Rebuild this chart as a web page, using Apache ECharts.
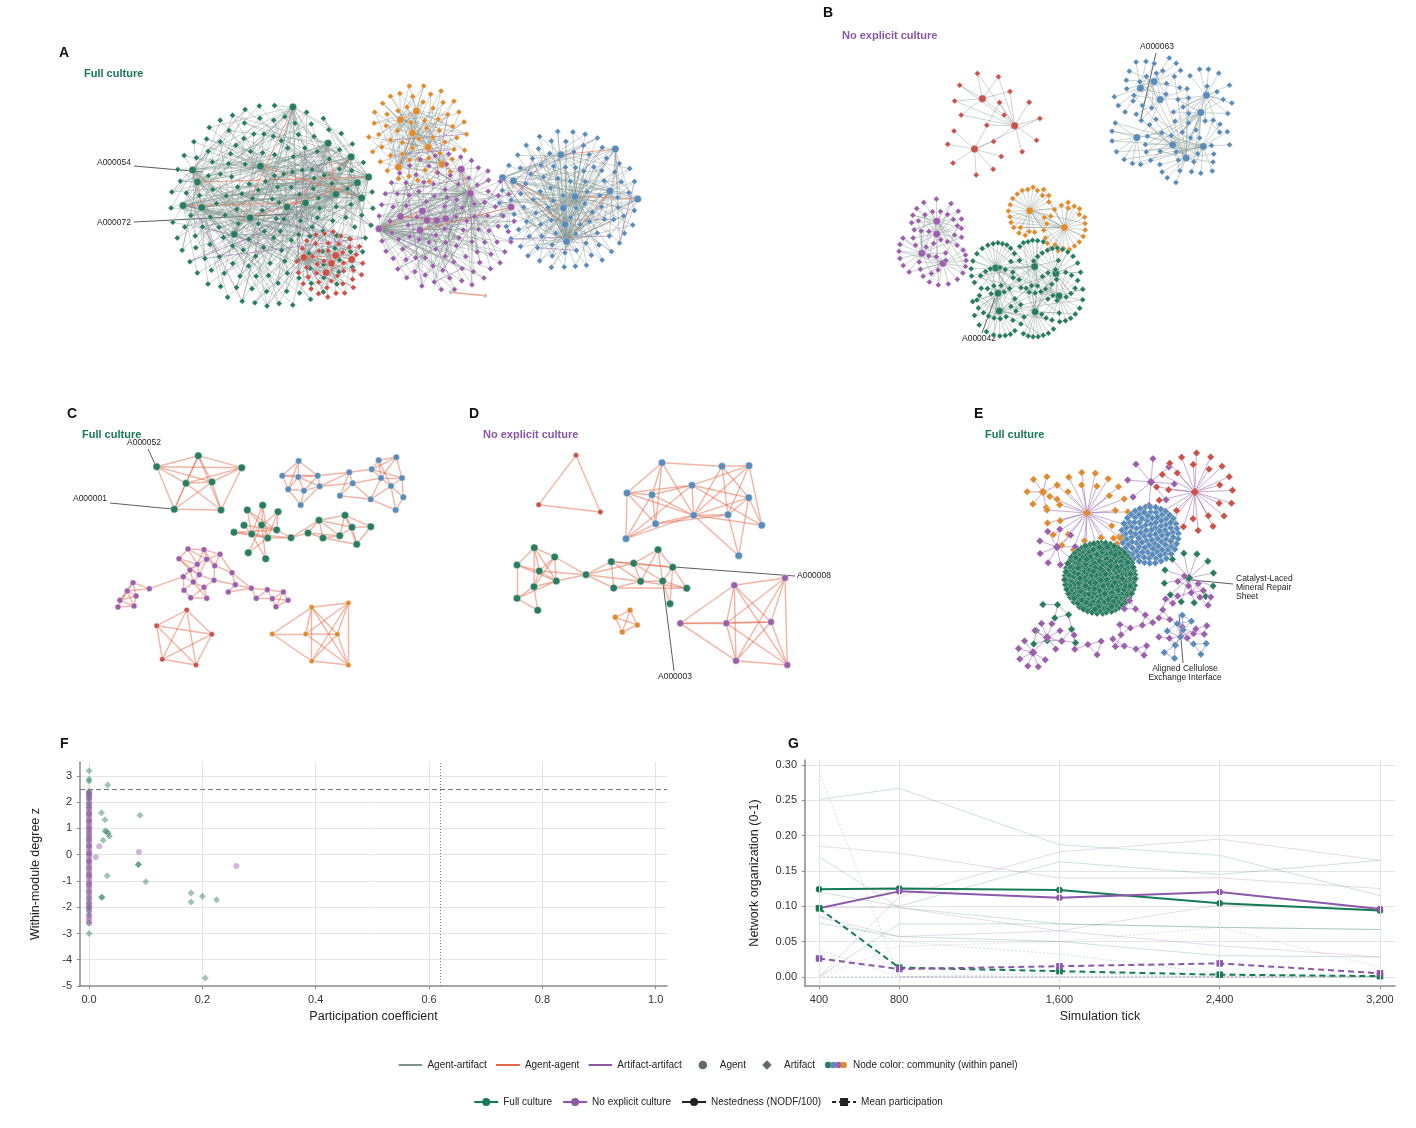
<!DOCTYPE html>
<html>
<head>
<meta charset="utf-8">
<script src="https://cdn.jsdelivr.net/npm/echarts@6/dist/echarts.min.js"></script>
<style>
html, body { margin: 0; background: #fff; }
#chart { width: 1416px; height: 1128px; }
</style>
</head>
<body>
<div id="chart"></div>
<script>
// ---- data: panel A / B (community sizes, agents = hubs, artifacts = leaves)
var aCommunities = ['green', 'orange', 'blue', 'purple', 'red'];
var aAgents = [16, 6, 10, 10, 5];
var aArtifacts = [175, 58, 100, 105, 42];

var bCommunities = ['red', 'blue', 'purple', 'orange', 'green'];
var bAgents = [3, 9, 4, 2, 7];
var bArtifacts = [20, 85, 52, 44, 112];

// ---- panel E: artifact-only components
var eCommunities = ['orange', 'orange', 'purple', 'red', 'blue', 'purple', 'orange', 'green', 'green', 'green', 'purple', 'purple', 'purple', 'purple', 'blue'];
var eKinds = ['star', 'star', 'star', 'star', 'blob', 'star', 'chain', 'blob', 'star', 'chain', 'star', 'chain', 'chain', 'chain', 'chain'];
var eHubs = [1, 1, 1, 1, 0, 1, 0, 0, 1, 0, 2, 0, 0, 0, 0];
var eCounts = [7, 30, 8, 26, 110, 9, 3, 260, 12, 10, 12, 5, 15, 25, 12];

// ---- panel C: agent-agent network, node positions (layout units) and links
var cGreen1 = [[56.7, 26.7], [98.3, 15.7], [141.7, 27.7], [86, 43.3], [112, 42], [74.3, 69.3], [121, 70]];
var cGreen1Links = [[0, 1], [0, 2], [0, 3], [0, 4], [0, 5], [1, 3], [1, 4], [1, 5], [1, 6], [1, 2], [2, 4], [2, 6], [2, 3], [3, 5], [3, 6], [3, 4], [4, 5], [4, 6], [5, 6]];
var cBlue = [[198.7, 21], [182.3, 35.7], [198.3, 37], [217.7, 35.7], [188.3, 49.3], [204, 50.7], [219.7, 46.3], [200.7, 65], [249.3, 32.3], [252.7, 43.3], [240, 55.7], [270.7, 59.3], [278.7, 20.3], [296.3, 17.3], [271.7, 29.3], [281, 38], [302, 38], [291, 46], [303.3, 57.3], [295.7, 70]];
var cBlueLinks = [[0, 1], [0, 2], [0, 3], [0, 4], [1, 2], [1, 4], [1, 3], [2, 3], [2, 5], [2, 4], [3, 6], [3, 5], [4, 5], [4, 7], [5, 6], [5, 7], [6, 7], [2, 6], [3, 8], [6, 9], [6, 8], [8, 9], [8, 10], [9, 10], [9, 11], [10, 11], [8, 14], [9, 15], [11, 15], [11, 17], [12, 13], [12, 14], [12, 15], [13, 14], [13, 16], [14, 15], [14, 16], [15, 17], [15, 16], [16, 17], [16, 18], [17, 18], [17, 19], [18, 19], [13, 15], [12, 17], [11, 19]];
var cGreen2 = [[147.3, 70], [162.7, 65.3], [178, 71.7], [144, 85.3], [161.7, 85], [176.7, 90], [134, 92.3], [151.7, 94], [167.7, 98], [148.3, 112.7], [165.7, 118.7], [191, 97.7], [208, 93], [223, 98], [219, 80.3], [239.7, 95.7], [245, 75.3], [252, 87.3], [256.7, 104.3], [270.7, 86.7]];
var cGreen2Links = [[0, 4], [0, 7], [1, 4], [1, 7], [2, 5], [2, 8], [3, 5], [4, 5], [4, 8], [6, 7], [6, 5], [7, 8], [9, 4], [9, 8], [10, 7], [10, 4], [3, 7], [0, 5], [1, 8], [2, 7], [6, 8], [5, 11], [8, 11], [7, 11], [11, 12], [12, 13], [12, 14], [13, 14], [13, 15], [14, 16], [15, 16], [15, 17], [16, 17], [17, 18], [16, 18], [17, 19], [16, 19], [18, 19], [14, 15], [11, 14], [12, 15], [13, 18], [14, 17]];
var cPurple = [[88, 109], [104, 109.7], [120, 114.3], [79, 118.7], [97.3, 124.3], [106.7, 119.3], [114.7, 125.7], [90, 130], [99.3, 134.7], [83.3, 136.7], [93.3, 142], [114, 140.3], [104, 147.3], [84, 150.3], [90.7, 157.7], [106.7, 158.3], [132, 132.7], [135.3, 144.7], [128.3, 152], [151.3, 148.3], [156.3, 158.3], [167.3, 149.7], [172.3, 158.7], [183.3, 152], [188, 160.3], [176, 166.7], [49.3, 148.7], [33, 142.7], [27.3, 151], [36, 156], [20, 160.3], [34, 166], [18, 167]];
var cPurpleLinks = [[0, 1], [0, 3], [0, 4], [0, 5], [1, 2], [1, 4], [1, 5], [1, 6], [2, 5], [2, 6], [2, 16], [3, 4], [3, 7], [3, 8], [4, 5], [4, 7], [4, 8], [5, 6], [5, 8], [6, 11], [6, 16], [7, 8], [7, 9], [7, 10], [8, 10], [8, 11], [9, 10], [9, 13], [10, 12], [10, 13], [11, 12], [11, 17], [12, 14], [12, 15], [13, 14], [14, 15], [10, 15], [4, 9], [16, 17], [17, 18], [16, 19], [17, 19], [18, 19], [19, 20], [19, 21], [20, 21], [20, 22], [21, 22], [21, 23], [22, 23], [22, 24], [23, 24], [23, 25], [24, 25], [22, 25], [26, 9], [26, 27], [26, 28], [27, 28], [27, 29], [28, 29], [28, 30], [29, 30], [29, 31], [30, 31], [30, 32], [31, 32], [28, 31], [27, 30], [28, 32]];
var cRed = [[86.7, 170], [56.7, 185.7], [111.7, 194.3], [62.3, 219.3], [96, 225]];
var cRedLinks = [[0, 1], [0, 2], [0, 3], [0, 4], [1, 2], [1, 3], [1, 4], [2, 3], [2, 4], [3, 4]];
var cOrange = [[211.7, 167.3], [248.3, 163], [172.3, 194], [205.7, 194], [237.3, 194.3], [211.7, 221], [248.3, 225]];
var cOrangeLinks = [[0, 2], [0, 3], [0, 4], [0, 5], [0, 6], [1, 3], [1, 4], [1, 6], [1, 5], [2, 3], [2, 5], [3, 4], [3, 6], [4, 5], [4, 6], [5, 6], [0, 1]];

// ---- panel D
var dRed = [[76, 15.3], [38.7, 64.7], [100.3, 72]];
var dRedLinks = [[0, 1], [1, 2], [0, 2]];
var dBlue = [[162, 22.7], [222, 26.3], [249, 25.7], [127, 53], [152, 54.7], [192, 45.3], [248.7, 57.7], [155.7, 83.7], [193.7, 75.3], [228, 74.7], [261.7, 85.3], [126, 98.7], [238.7, 115.7]];
var dBlueLinks = [[0, 1], [0, 3], [0, 4], [0, 7], [0, 8], [3, 4], [3, 5], [3, 7], [3, 8], [3, 11], [4, 5], [4, 7], [4, 8], [4, 11], [5, 8], [5, 2], [5, 6], [5, 10], [5, 11], [7, 8], [7, 11], [8, 9], [8, 6], [8, 12], [8, 2], [8, 10], [9, 2], [9, 6], [9, 1], [9, 12], [6, 10], [6, 12], [6, 1], [1, 2], [2, 10], [1, 8], [11, 8], [7, 9]];
var dGreen = [[34.3, 107.7], [17, 125], [54.7, 117], [39.3, 131], [56.3, 141], [34, 146.7], [17, 158.3], [37.7, 170.3], [86, 134.7], [111.3, 121.7], [133.7, 123.3], [158, 109.7], [172.7, 127.3], [113.7, 148], [140.7, 141.3], [162.7, 141], [186.7, 148.3], [170, 163.7]];
var dGreenLinks = [[0, 1], [0, 2], [0, 3], [0, 4], [0, 5], [1, 3], [1, 4], [1, 6], [2, 3], [2, 4], [2, 5], [2, 8], [3, 4], [3, 5], [3, 8], [4, 8], [4, 5], [5, 6], [5, 7], [6, 7], [6, 4], [8, 9], [8, 10], [8, 13], [8, 14], [9, 10], [9, 13], [9, 14], [10, 11], [10, 12], [10, 14], [10, 15], [11, 12], [11, 14], [11, 15], [12, 15], [12, 17], [12, 16], [13, 14], [14, 15], [14, 16], [15, 16], [15, 17], [9, 12], [13, 16]];
var dOrange = [[130, 170.3], [115.3, 177.3], [137.3, 185], [122.3, 192]];
var dOrangeLinks = [[0, 1], [1, 3], [3, 2], [2, 0], [0, 3], [1, 2]];
var dPurple = [[234.3, 145.3], [285, 138], [180.3, 183.3], [226.3, 183.3], [271, 182], [236, 220.7], [287.3, 225]];
var dPurpleLinks = [[0, 1], [0, 2], [0, 3], [0, 4], [0, 5], [0, 6], [1, 3], [1, 4], [1, 6], [1, 5], [2, 3], [2, 5], [3, 4], [3, 5], [3, 6], [4, 5], [4, 6], [5, 6], [2, 4]];

// ---- panel F: participation coefficient vs within-module degree z
var fFullPoints = [[0, 3.2], [0, 2.87], [0, 2.8], [0, 2.42], [0, 2.35], [0, 2.28], [0, 2.2], [0, 2.1], [0, 1.95], [0, 1.8], [0, 1.55], [0, 1.3], [0, 1.05], [0, 0.8], [0, 0.55], [0, 0.3], [0, 0.05], [0, -0.25], [0, -0.5], [0, -0.8], [0, -1.1], [0, -1.4], [0, -1.65], [0, -1.85], [0, -1.95], [0, -2.05], [0, -2.15], [0, -2.3], [0, -2.6], [0, -3.0],
  [0.033, 2.65], [0.022, 1.6], [0.028, 1.33], [0.09, 1.5], [0.028, 0.9], [0.031, 0.88], [0.034, 0.82], [0.036, 0.7], [0.025, 0.55], [0.087, -0.37], [0.087, -0.37], [0.032, -0.8], [0.1, -1.03], [0.022, -1.62], [0.023, -1.62], [0.18, -1.46], [0.18, -1.8], [0.2, -1.58], [0.225, -1.72], [0.205, -4.7]];
var fNonePoints = [[0, 2.38], [0, 2.3], [0, 2.2], [0, 2.15], [0, 2.0], [0, 1.9], [0, 1.85], [0, 1.75], [0, 1.7], [0, 1.6], [0, 1.55], [0, 1.5], [0, 1.4], [0, 1.3], [0, 1.25], [0, 1.2], [0, 1.1], [0, 1.0], [0, 0.95], [0, 0.9], [0, 0.8], [0, 0.7], [0, 0.65], [0, 0.6], [0, 0.5], [0, 0.4], [0, 0.35], [0, 0.3], [0, 0.2], [0, 0.1], [0, 0.05], [0, 0.0], [0, -0.1], [0, -0.2], [0, -0.25], [0, -0.3], [0, -0.4], [0, -0.5], [0, -0.6], [0, -0.7], [0, -0.75], [0, -0.8], [0, -0.9], [0, -1.0], [0, -1.1], [0, -1.15], [0, -1.2], [0, -1.3], [0, -1.4], [0, -1.5], [0, -1.6], [0, -1.7], [0, -1.8], [0, -1.9], [0, -2.0], [0, -2.1], [0, -2.3], [0, -2.4], [0, -2.5], [0, -2.6],
  [0.018, 0.32], [0.012, -0.1], [0.088, 0.1], [0.26, -0.43]];
var fHubZ = 2.5;
var fConnectorP = 0.62;

// ---- panel G: network organization over time
var gTicks = [400, 800, 1600, 2400, 3200];
var gFullNested = [0.124, 0.125, 0.123, 0.104, 0.094];
var gNoneNested = [0.097, 0.121, 0.112, 0.120, 0.096];
var gFullPart = [0.097, 0.013, 0.008, 0.003, 0.001];
var gNonePart = [0.026, 0.011, 0.015, 0.019, 0.005];
var gRunsNestedFull = [[0.251, 0.267, 0.187, 0.172, 0.115], [0.17, 0.098, 0.075, 0.07, 0.067], [0.0, 0.075, 0.075, 0.07, 0.067], [0.12, 0.1, 0.163, 0.145, 0.165], [0.076, 0.057, 0.05, 0.03, 0.028]];
var gRunsNestedNone = [[0.185, 0.175, 0.14, 0.14, 0.125], [0.0, 0.113, 0.177, 0.195, 0.165], [0.085, 0.057, 0.065, 0.102, 0.095], [0.098, 0.098, 0.065, 0.044, 0.028]];
var gRunsPartFull = [[0.29, 0.0, 0.0, 0.0, 0.0], [0.085, 0.05, 0.032, 0.005, 0.0], [0.0, 0.0, 0.005, 0.0, 0.0]];
var gRunsPartNone = [[0.038, 0.0, 0.0, 0.0, 0.0], [0.0, 0.043, 0.05, 0.07, 0.013], [0.1, 0.0, 0.0, 0.0, 0.0]];

// ---- styles
var FONT = '"Liberation Sans", Arial, Helvetica, sans-serif';
var COL = { green: '#2a7c60', blue: '#5b8cb9', purple: '#9c5fab', red: '#c9524b', orange: '#df8c30', gray: '#b9bdbb' };
var EDGE = { aa: '#7f938a', ag: '#e5694a', ar: '#8e58a9' };
var GREEN = '#177a56', PURPLE = '#8b57a8';

// community placement (centre x, centre y, box w, box h) and force settings (repulsion, gravity, edge length)
var aLayout = [[272, 206, 230, 170, 3.1, 0.1, 32], [418, 134, 140, 95, 2.3, 0.1, 26], [568, 200, 170, 130, 2.6, 0.1, 28], [446, 222, 190, 115, 2.4, 0.1, 28], [330, 264, 95, 55, 1.5, 0.1, 20]];
var bLayout = [[990, 124, 110, 40, 8, 0.1, 26], [1172, 118, 160, 120, 2.6, 0.1, 26], [935, 243, 105, 75, 2.0, 0.1, 22], [1047, 219, 135, 30, 2.6, 0.1, 20], [1025, 288, 175, 90, 1.7, 0.1, 24]];
var eLayout = [[1043, 492, 30, 30, 8, 0.1, 11], [1087, 513, 60, 60, 12, 0.1, 24], [1151, 482, 45, 45, 12, 0.1, 19], [1195, 492, 55, 55, 12, 0.1, 23], [1150, 535, 60, 60, 1.3, 0.3, 6], [1057, 547, 32, 32, 8, 0.1, 13], [1117, 540, 12, 12, 2, 0.1, 6], [1100, 578, 90, 70, 0.8, 0.3, 6], [1189, 578, 45, 45, 10, 0.1, 20], [1055, 627, 50, 35, 6, 0.1, 13], [1040, 645, 35, 30, 6, 0.1, 10], [1087, 645, 25, 25, 6, 0.1, 13], [1132, 630, 55, 20, 4, 0.1, 9], [1185, 612, 90, 20, 4, 0.1, 8], [1183, 638, 60, 15, 5, 0.1, 11]];

function lk(s, t, kind, op, free) {
    return { source: s, target: t, ignoreForceLayout: !!free, lineStyle: { color: EDGE[kind], opacity: op } };
}

// agents as hubs, artifacts attached to one or more of them;
// `keep` = every keep-th primary link takes part in the force layout
function meshGraph(nAg, nAr, share, keep, bipartiteOnly) {
    var nodes = [], links = [], i, j;
    for (i = 0; i < nAg; i++) nodes.push({ name: 'g' + i, symbol: 'circle', symbolSize: 7.5 });
    for (j = 0; j < nAr; j++) nodes.push({ name: 'r' + j, symbol: 'diamond', symbolSize: 6 });
    for (j = 0; j < nAr; j++) {
        var t = nAg + j;
        links.push(lk(t, j % nAg, 'aa', 0.45, j % keep !== 0));
        if (nAg > 1 && j % share === 0) links.push(lk(t, (j * 5 + 1) % nAg, 'aa', 0.45, true));
        if (nAg > 2 && j % (share * 3) === 1) links.push(lk(t, (j * 3 + 2) % nAg, 'aa', 0.45, true));
        if (!bipartiteOnly && j % 13 === 6 && j + 1 < nAr) links.push(lk(t, t + 1, 'ar', 0.6, true));
    }
    if (!bipartiteOnly) {
        for (i = 0; i + 1 < nAg; i += 2) links.push(lk(i, i + 1, 'ag', 0.7, true));
    }
    return { nodes: nodes, links: links };
}

function eGraph(kind, hubs, n) {
    var nodes = [], links = [], i, j;
    for (i = 0; i < hubs; i++) nodes.push({ name: 'h' + i, symbolSize: 9 });
    for (j = 0; j < n; j++) nodes.push({ name: 'd' + j, symbolSize: 7.5 });
    if (kind === 'star') {
        for (j = 0; j < n; j++) links.push(lk(hubs + j, j % hubs, 'ar', 0.5));
        for (i = 1; i < hubs; i++) links.push(lk(i - 1, i, 'ar', 0.5));
    } else if (kind === 'blob') {
        for (j = 0; j + 3 < n; j += 11) links.push(lk(j, j + 3, 'ar', 0.7));
    } else {
        for (j = 0; j + 1 < n; j++) links.push(lk(j, j + 1, 'ar', 0.5));
        for (j = 0; j + 2 < n; j += 3) links.push(lk(j, j + 2, 'ar', 0.5));
    }
    return { nodes: nodes, links: links };
}

function forceSeries(g, color, lay, symbol, edgeWidth) {
    return {
        type: 'graph', layout: 'force', silent: true, roam: false,
        left: lay[0] - lay[2] / 2, top: lay[1] - lay[3] / 2, width: lay[2], height: lay[3],
        force: { repulsion: lay[4], gravity: lay[5], edgeLength: lay[6], layoutAnimation: false },
        symbol: symbol || 'diamond',
        itemStyle: { color: color, borderColor: 'rgba(255,255,255,0.7)', borderWidth: 0.5 },
        lineStyle: { width: edgeWidth || 0.9, curveness: 0 },
        emphasis: { disabled: true },
        data: g.nodes, links: g.links, z: 2
    };
}

function gridGraph(pos, links, color, size, idx) {
    return {
        type: 'graph', layout: 'none', coordinateSystem: 'cartesian2d', xAxisIndex: idx, yAxisIndex: idx,
        silent: true, symbol: 'circle', symbolSize: size,
        itemStyle: { color: color, borderColor: 'rgba(255,255,255,0.8)', borderWidth: 0.6 },
        lineStyle: { color: EDGE.ag, opacity: 0.5, width: 1.4, curveness: 0 },
        emphasis: { disabled: true },
        data: pos.map(function (p, i) { return { name: 'n' + i, value: p }; }),
        links: links.map(function (l) { return { source: l[0], target: l[1] }; }),
        z: 3
    };
}

var series = [];

// panel A
aCommunities.forEach(function (c, k) {
    series.push(forceSeries(meshGraph(aAgents[k], aArtifacts[k], 1, 4, false), COL[c], aLayout[k]));
});
series.push(forceSeries({ nodes: [{ name: 'p0', symbolSize: 4 }, { name: 'p1', symbolSize: 4 }], links: [lk(0, 1, 'ag', 0.6)] },
    COL.gray, [468, 294, 40, 6, 2, 0.05, 36], 'circle', 1.4));

// panel B
bCommunities.forEach(function (c, k) {
    series.push(forceSeries(meshGraph(bAgents[k], bArtifacts[k], 3, 1, true), COL[c], bLayout[k]));
});

// panel E
eCommunities.forEach(function (c, k) {
    series.push(forceSeries(eGraph(eKinds[k], eHubs[k], eCounts[k]), COL[c], eLayout[k], 'diamond', 1));
});

// panels C and D
series.push(gridGraph(cGreen1, cGreen1Links, COL.green, 7.5, 2));
series.push(gridGraph(cBlue, cBlueLinks, COL.blue, 6.5, 2));
series.push(gridGraph(cGreen2, cGreen2Links, COL.green, 7.5, 2));
series.push(gridGraph(cPurple, cPurpleLinks, COL.purple, 6, 2));
series.push(gridGraph(cRed, cRedLinks, COL.red, 5.5, 2));
series.push(gridGraph(cOrange, cOrangeLinks, COL.orange, 5.5, 2));
series.push(gridGraph(dRed, dRedLinks, COL.red, 5.5, 3));
series.push(gridGraph(dBlue, dBlueLinks, COL.blue, 7.5, 3));
series.push(gridGraph(dGreen, dGreenLinks, COL.green, 7.5, 3));
series.push(gridGraph(dOrange, dOrangeLinks, COL.orange, 6, 3));
series.push(gridGraph(dPurple, dPurpleLinks, COL.purple, 7, 3));

// panel F
series.push({
    type: 'scatter', xAxisIndex: 0, yAxisIndex: 0, silent: true,
    symbol: 'diamond', symbolSize: 7,
    itemStyle: { color: COL.green, opacity: 0.45 },
    data: fFullPoints,
    markLine: {
        silent: true, symbol: ['none', 'none'], label: { show: false },
        data: [
            { yAxis: fHubZ, lineStyle: { color: '#777', type: [5, 3], width: 1.2 } },
            { xAxis: fConnectorP, lineStyle: { color: '#777', type: [1, 2], width: 1 } }
        ]
    }
});
series.push({
    type: 'scatter', xAxisIndex: 0, yAxisIndex: 0, silent: true,
    symbol: 'circle', symbolSize: 6,
    itemStyle: { color: COL.purple, opacity: 0.45 },
    data: fNonePoints
});

// panel G
function tickData(vals) {
    return gTicks.map(function (t, i) { return [t, vals[i]]; });
}
series.push({
    type: 'line', xAxisIndex: 1, yAxisIndex: 1, data: [], silent: true, z: 0,
    markLine: {
        silent: true, symbol: ['none', 'none'], label: { show: false },
        lineStyle: { color: '#e4e4e4', type: 'solid', width: 1 },
        data: gTicks.map(function (t) { return { xAxis: t }; })
    }
});
function faint(runs, color, dotted) {
    runs.forEach(function (r) {
        series.push({
            type: 'line', xAxisIndex: 1, yAxisIndex: 1, silent: true, symbol: 'none',
            lineStyle: { color: color, width: 0.8, opacity: 0.28, type: dotted ? [2, 2] : 'solid' },
            data: tickData(r), z: 1
        });
    });
}
faint(gRunsNestedFull, GREEN, false);
faint(gRunsNestedNone, PURPLE, false);
faint(gRunsPartFull, GREEN, true);
faint(gRunsPartNone, PURPLE, true);
function mainLine(vals, color, dashed) {
    series.push({
        type: 'line', xAxisIndex: 1, yAxisIndex: 1, silent: true,
        symbol: dashed ? 'rect' : 'circle', symbolSize: 6.5,
        itemStyle: { color: color, borderWidth: 0 },
        lineStyle: { color: color, width: 2, type: dashed ? [6, 4] : 'solid' },
        data: tickData(vals), z: 4
    });
}
mainLine(gFullNested, GREEN, false);
mainLine(gNoneNested, PURPLE, false);
mainLine(gFullPart, GREEN, true);
mainLine(gNonePart, PURPLE, true);

// legend-only series
function legendLine(name, color, symbol, dashed) {
    series.push({
        name: name, type: 'line', xAxisIndex: 1, yAxisIndex: 1, data: [],
        symbol: symbol || 'none', symbolSize: 7,
        itemStyle: { color: color },
        lineStyle: { color: color, width: 2, type: dashed ? [4, 3] : 'solid' }
    });
}
legendLine('Agent-artifact', EDGE.aa);
legendLine('Agent-agent', EDGE.ag);
legendLine('Artifact-artifact', EDGE.ar);
legendLine('Agent', '#5f6b66');
legendLine('Artifact', '#5f6b66');
legendLine('Node color: community (within panel)', COL.green);
legendLine('Full culture', GREEN, 'circle');
legendLine('No explicit culture', PURPLE, 'circle');
legendLine('Nestedness (NODF/100)', '#222', 'circle');
legendLine('Mean participation', '#222', 'rect', true);

function svgIcon(inner) {
    return 'image://data:image/svg+xml;utf8,' + encodeURIComponent(
        "<svg xmlns='http://www.w3.org/2000/svg' width='24' height='10'>" + inner + "</svg>");
}
function lineIcon(c) {
    return svgIcon("<rect x='0' y='4' width='24' height='2' fill='" + c + "'/>");
}
var dotsIcon = svgIcon(
    "<circle cx='4' cy='5' r='3.2' fill='" + COL.green + "'/>" +
    "<circle cx='9.2' cy='5' r='3.2' fill='" + COL.blue + "'/>" +
    "<circle cx='14.4' cy='5' r='3.2' fill='" + COL.purple + "'/>" +
    "<circle cx='19.6' cy='5' r='3.2' fill='" + COL.orange + "'/>");
var agentIcon = svgIcon("<circle cx='12' cy='5' r='4.3' fill='#5f6b66'/>");
var artifactIcon = svgIcon("<polygon points='12,0.3 16.7,5 12,9.7 7.3,5' fill='#5f6b66'/>");

// ---- texts and annotations
var graphic = [];
function txt(s, x, y, size, color, weight, align) {
    graphic.push({
        type: 'text', x: x, y: y, silent: true,
        style: { text: s, fontFamily: FONT, fontSize: size, fill: color, fontWeight: weight || 'normal', textAlign: align || 'left', textVerticalAlign: 'middle' }
    });
}
function lead(x1, y1, x2, y2) {
    graphic.push({ type: 'line', silent: true, shape: { x1: x1, y1: y1, x2: x2, y2: y2 }, style: { stroke: '#333', lineWidth: 0.8 } });
}
[['A', 59, 53], ['B', 823, 13], ['C', 67, 414], ['D', 469, 414], ['E', 974, 414], ['F', 60, 744], ['G', 788, 744]].forEach(function (p) {
    txt(p[0], p[1], p[2], 14, '#111', 'bold');
});
txt('Full culture', 84, 74, 11, GREEN, 'bold');
txt('No explicit culture', 842, 36, 11, PURPLE, 'bold');
txt('Full culture', 82, 435, 11, GREEN, 'bold');
txt('No explicit culture', 483, 435, 11, PURPLE, 'bold');
txt('Full culture', 985, 435, 11, GREEN, 'bold');

txt('A000054', 131, 163, 8.5, '#222', 'normal', 'right'); lead(134, 166, 203, 172);
txt('A000072', 131, 223, 8.5, '#222', 'normal', 'right'); lead(134, 222, 290, 214);
txt('A000063', 1157, 47, 8.5, '#222', 'normal', 'center'); lead(1156, 53, 1141, 118);
txt('A000042', 979, 339, 8.5, '#222', 'normal', 'center'); lead(982, 333, 995, 298);
txt('A000052', 144, 443, 8.5, '#222', 'normal', 'center'); lead(148, 449, 155, 464);
txt('A000001', 107, 499, 8.5, '#222', 'normal', 'right'); lead(110, 503, 172, 509);
txt('A000008', 797, 576, 8.5, '#222', 'normal', 'left'); lead(674, 567, 795, 576);
txt('A000003', 675, 677, 8.5, '#222', 'normal', 'center'); lead(663, 583, 674, 671);
txt('Catalyst-Laced', 1236, 579, 8.5, '#222'); txt('Mineral Repair', 1236, 588, 8.5, '#222'); txt('Sheet', 1236, 597, 8.5, '#222');
lead(1192, 580, 1233, 584);
txt('Aligned Cellulose', 1185, 669, 8.5, '#222', 'normal', 'center'); txt('Exchange Interface', 1185, 678, 8.5, '#222', 'normal', 'center');
lead(1179, 614, 1183, 663);

// ---- axes
function valAxis(gridIndex, extra) {
    var base = {
        type: 'value', gridIndex: gridIndex,
        axisLine: { show: true, onZero: false, lineStyle: { color: '#8a8a8a', width: 1.5 } },
        axisTick: { show: true, length: 3, lineStyle: { color: '#8a8a8a' } },
        axisLabel: { color: '#333', fontSize: 11, fontFamily: FONT },
        splitLine: { show: true, showMinLine: false, showMaxLine: false, lineStyle: { color: '#e4e4e4', width: 1 } },
        nameLocation: 'middle',
        nameTextStyle: { color: '#222', fontSize: 12.5, fontFamily: FONT }
    };
    for (var k in extra) {
        var v = extra[k];
        base[k] = (v && typeof v === 'object' && !Array.isArray(v) && base[k] && typeof base[k] === 'object') ? Object.assign({}, base[k], v) : v;
    }
    return base;
}
function hidden(gridIndex, min, max, inverse) {
    return { type: 'value', gridIndex: gridIndex, show: false, min: min, max: max, inverse: !!inverse, splitLine: { show: false } };
}

var option = {
    animation: false,
    backgroundColor: '#fff',
    textStyle: { fontFamily: FONT },
    graphic: graphic,
    grid: [
        { left: 80, top: 762, width: 587, height: 224 },
        { left: 805, top: 760, width: 590, height: 226 },
        { left: 100, top: 440, width: 320, height: 250 },
        { left: 500, top: 440, width: 320, height: 250 }
    ],
    xAxis: [
        valAxis(0, { min: -0.016, max: 1.02, name: 'Participation coefficient', nameGap: 24,
            axisLabel: { showMinLabel: false, showMaxLabel: false, formatter: function (v) { return v.toFixed(1); } } }),
        valAxis(1, { min: 330, max: 3275, name: 'Simulation tick', nameGap: 24,
            axisLabel: { customValues: gTicks, formatter: function (v) { return v.toLocaleString('en-US'); } },
            axisTick: { customValues: gTicks }, splitLine: { show: false } }),
        hidden(2, 0, 320), hidden(3, 0, 320)
    ],
    yAxis: [
        valAxis(0, { min: -5, max: 3.53, interval: 1, name: 'Within-module degree z', nameGap: 38,
            axisLabel: { showMaxLabel: false } }),
        valAxis(1, { min: -0.013, max: 0.307, splitNumber: 6, name: 'Network organization (0-1)', nameGap: 44,
            axisLabel: { showMinLabel: false, showMaxLabel: false, formatter: function (v) { return v.toFixed(2); } } }),
        hidden(2, 0, 250, true), hidden(3, 0, 250, true)
    ],
    legend: [
        {
            top: 1055, left: 'center', itemWidth: 24, itemHeight: 10, itemGap: 9, selectedMode: false,
            textStyle: { fontSize: 10, color: '#222', fontFamily: FONT },
            data: [
                { name: 'Agent-artifact', icon: lineIcon(EDGE.aa) },
                { name: 'Agent-agent', icon: lineIcon(EDGE.ag) },
                { name: 'Artifact-artifact', icon: lineIcon(EDGE.ar) },
                { name: 'Agent', icon: agentIcon },
                { name: 'Artifact', icon: artifactIcon },
                { name: 'Node color: community (within panel)', icon: dotsIcon }
            ]
        },
        {
            top: 1092, left: 'center', itemWidth: 24, itemHeight: 10, itemGap: 10, selectedMode: false,
            textStyle: { fontSize: 10, color: '#222', fontFamily: FONT },
            data: ['Full culture', 'No explicit culture', 'Nestedness (NODF/100)', 'Mean participation']
        }
    ],
    series: series
};

var chart = echarts.init(document.getElementById('chart'), null, { renderer: 'canvas' });
chart.setOption(option);
</script>
</body>
</html>
